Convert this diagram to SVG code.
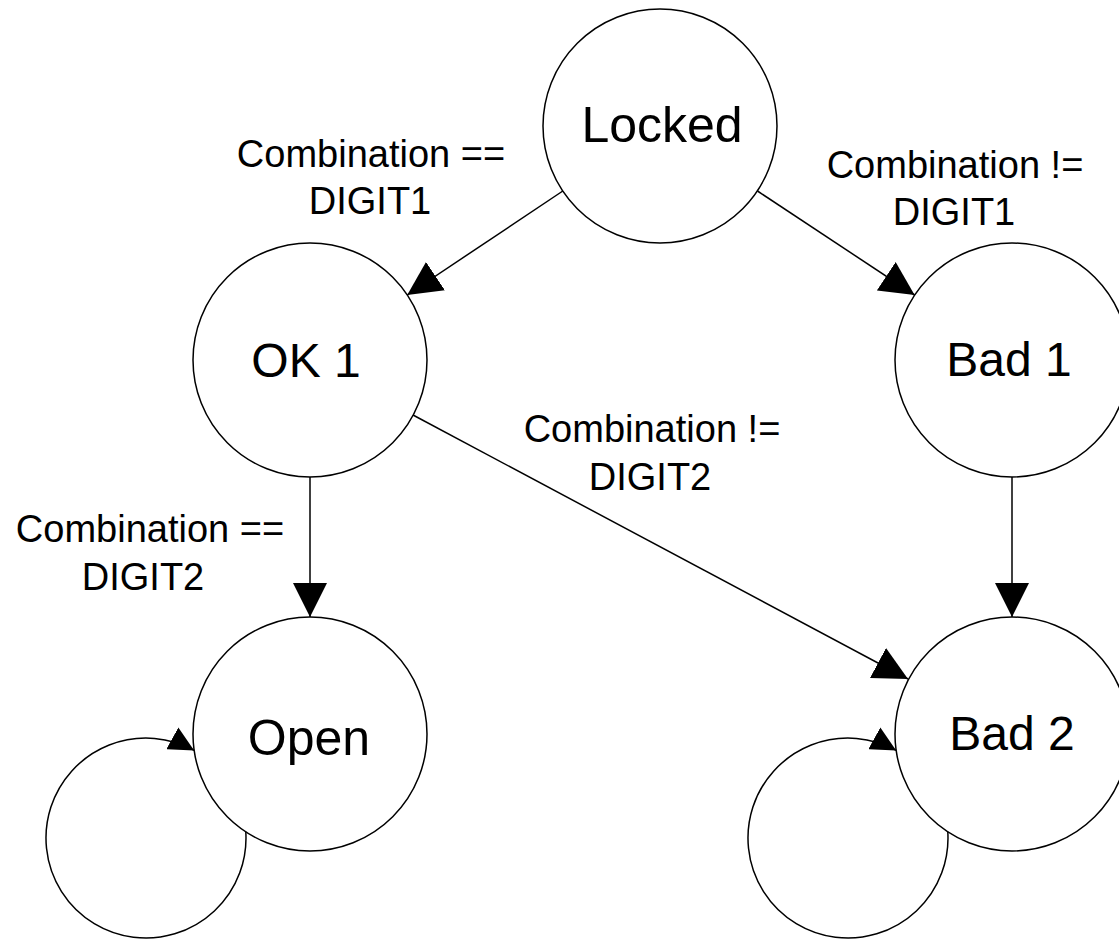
<svg xmlns="http://www.w3.org/2000/svg" width="1119" height="939" viewBox="0 0 1119 939">
<style>
.node{fill:#fff;stroke:#000;stroke-width:1.5}
.ntext{font-family:"Liberation Sans",Arial,sans-serif;font-size:48px;fill:#000;text-anchor:middle}
.big{font-size:50px}
.lbl{font-family:"Liberation Sans",Arial,sans-serif;font-size:38px;fill:#000;text-anchor:middle}
.edge{fill:none;stroke:#000;stroke-width:1.5}
</style>
<defs>
<marker id="big" markerUnits="userSpaceOnUse" markerWidth="34" markerHeight="34" viewBox="0 0 34 34" refX="34" refY="17" orient="auto"><path d="M0,0 L34,17 L0,34 Z" fill="#000"/></marker>
<marker id="small" markerUnits="userSpaceOnUse" markerWidth="25" markerHeight="25" viewBox="0 0 25 25" refX="25" refY="12.5" orient="auto"><path d="M0,0 L25,12.5 L0,25 Z" fill="#000"/></marker>
</defs>
<rect width="1119" height="939" fill="#fff"/>
<g id="node-locked"><circle class="node" cx="660" cy="126" r="117"/><text class="ntext big" x="662" y="142">Locked</text></g>
<g id="node-ok1"><circle class="node" cx="310" cy="360" r="117"/><text class="ntext" x="306" y="377">OK 1</text></g>
<g id="node-bad1"><circle class="node" cx="1012" cy="360" r="117"/><text class="ntext" x="1009" y="376">Bad 1</text></g>
<g id="node-open"><circle class="node" cx="310" cy="734" r="117"/><text class="ntext big" x="309" y="755">Open</text></g>
<g id="node-bad2"><circle class="node" cx="1012" cy="734" r="117"/><text class="ntext" x="1012" y="750">Bad 2</text></g>
<g id="connectors">
<line class="edge" x1="562.8" y1="191" x2="407.2" y2="295" marker-end="url(#big)"/>
<line class="edge" x1="757.5" y1="191" x2="914.6" y2="295" marker-end="url(#big)"/>
<line class="edge" x1="310" y1="477" x2="310" y2="617" marker-end="url(#big)"/>
<line class="edge" x1="1012" y1="477" x2="1012" y2="617" marker-end="url(#big)"/>
<line class="edge" x1="413" y1="415" x2="908" y2="679" marker-end="url(#big)"/>
<path class="edge" d="M245.8,831.8 A100,100 0 1 1 194.2,750.4" marker-end="url(#small)"/>
<path class="edge" d="M947.8,831.8 A100,100 0 1 1 896.2,750.4" marker-end="url(#small)"/>
</g>
<g id="labels">
<text class="lbl" x="371" y="167">Combination ==</text>
<text class="lbl" x="370" y="214">DIGIT1</text>
<text class="lbl" x="955" y="178">Combination !=</text>
<text class="lbl" x="954" y="225">DIGIT1</text>
<text class="lbl" x="652" y="442">Combination !=</text>
<text class="lbl" x="650" y="490">DIGIT2</text>
<text class="lbl" x="150" y="542">Combination ==</text>
<text class="lbl" x="143" y="590">DIGIT2</text>
</g>
</svg>
